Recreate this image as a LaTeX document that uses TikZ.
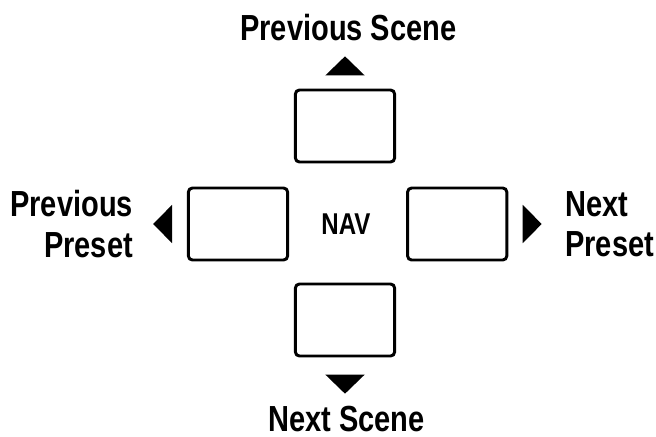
\documentclass[tikz,border=0pt]{standalone}
\usepackage{fontspec}
\newfontfamily\navfont[FakeStretch=0.8]{Liberation Sans}
\usetikzlibrary{positioning, calc}

\begin{document}
\begin{tikzpicture}[
    key_style/.style={draw, line width=2.1pt, rounded corners=0.1cm, minimum width=2.48cm, minimum height=1.8cm, inner sep=0pt},
    label_style/.style={font=\navfont\bfseries\fontsize{25.8}{28.5}\selectfont, inner sep=0pt},
    nav_style/.style={font=\navfont\bfseries\fontsize{21.4}{24}\selectfont, inner sep=0pt},
    tip_style/.style={fill=black}
]
\useasboundingbox (0,0) rectangle (16.4,-10.9);

% Four keys around the NAV label
\node[key_style] (up) at (8.625,-3.15) {};
\node[key_style] (left) at (5.95,-5.6) {};
\node[key_style] (right) at (11.43,-5.6) {};
\node[key_style] (down) at (8.625,-8.0) {};
\node[nav_style] (nav) at (8.65,-5.6) {NAV};

% Direction triangles
\fill[tip_style] ($(up.north)+(0,0.33)$) -- ++(0.49,0) -- ++(-0.49,0.475) -- ++(-0.49,-0.475) -- cycle;
\fill[tip_style] ($(down.south)+(0,-0.43)$) -- ++(0.49,0) -- ++(-0.49,-0.475) -- ++(-0.49,0.475) -- cycle;
\fill[tip_style] ($(left.west)+(-0.37,0)$) -- ++(0,0.48) -- ++(-0.475,-0.48) -- ++(0.475,-0.48) -- cycle;
\fill[tip_style] ($(right.east)+(0.36,0)$) -- ++(0,0.48) -- ++(0.475,-0.48) -- ++(-0.475,-0.48) -- cycle;

% Labels
\node[label_style, anchor=base] (prev_scene) at (8.71,-1.0) {Previous Scene};
\node[label_style, anchor=base] (next_scene) at (8.66,-10.78) {Next Scene};
\node[label_style, align=right, anchor=east] (prev_preset) at (3.33,-5.6) {Previous\\Preset};
\node[label_style, align=left, anchor=west] (next_preset) at (14.125,-5.6) {Next\\Preset};

\end{tikzpicture}
\end{document}
